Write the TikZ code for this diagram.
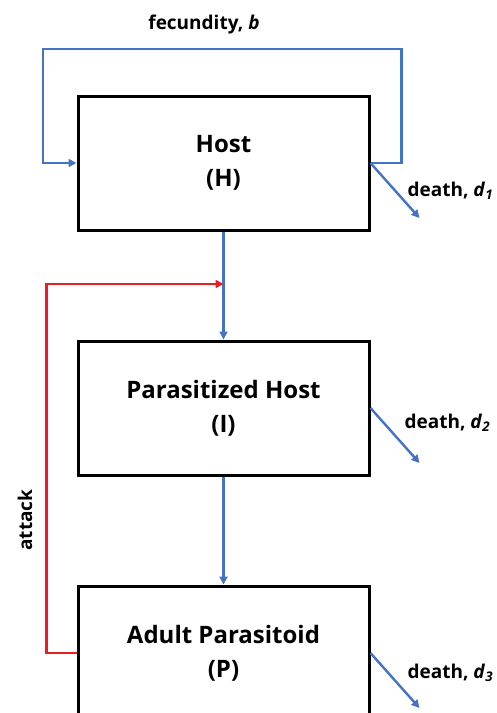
\documentclass[tikz,border=0pt]{standalone}
\usepackage{fontspec}
\setmainfont{Open Sans}
\usepackage{xcolor}
\usepackage{tikz}
\usetikzlibrary{arrows.meta,positioning}

\definecolor{flowblue}{RGB}{68,114,196}
\definecolor{attackred}{RGB}{237,28,36}

\begin{document}
\begin{tikzpicture}[
    x=0.5pt, y=-0.5pt,
    popbox/.style={
        rectangle, draw, line width=1.5pt,
        minimum width=145.5pt,
        minimum height=67pt,
        align=center,
        font=\fontsize{12}{17}\selectfont\bfseries
    },
    flow/.style={draw=flowblue, line width=1.2pt, -{Triangle[length=4pt,width=4pt]}},
    atk/.style={draw=attackred, line width=1.2pt, -{Triangle[length=4pt,width=4pt]}},
    lbl/.style={font=\fontsize{9.5}{11}\selectfont\bfseries},
]
\useasboundingbox (0,0) rectangle (497,713);

\node[popbox] (host) at (223.5,163) {Host\\(H)};
\node[popbox, below=54pt of host] (para) {Parasitized Host\\(I)};
\node[popbox, below=54pt of para] (adult) {Adult Parasitoid\\(P)};

% main flow
\draw[flow] (host.south) -- (para.north);
\draw[flow] (para.south) -- (adult.north);

% fecundity loop
\draw[flow] (host.east) -- ++(31,0) |- (43,49) |- (host.west);
\node[lbl] (fec) at (204,25) {fecundity, \textit{b}};

% deaths
\coordinate (hout) at ([shift={(49,55)}]host.east);
\coordinate (iout) at ([shift={(49,55)}]para.east);
\coordinate (pout) at ([shift={(49,55)}]adult.east);
\draw[flow] (host.east) -- (hout);
\draw[flow] (para.east) -- (iout);
\draw[flow] (adult.east) -- (pout);
\node[lbl, anchor=west] (d1) at ([shift={(30,28)}]host.east) {death, \textit{d}\textsubscript{\textit{1}}};
\node[lbl, anchor=west] (d2) at ([shift={(27,15)}]para.east) {death, \textit{d}\textsubscript{\textit{2}}};
\node[lbl, anchor=west] (d3) at ([shift={(30,20)}]adult.east) {death, \textit{d}\textsubscript{\textit{3}}};

% attack
\coordinate (tap) at (223.5,284);
\draw[atk] (adult.west) -- ++(-30,0) |- (tap);
\node[lbl, rotate=90] (atklbl) at (25,520) {attack};

\end{tikzpicture}
\end{document}
